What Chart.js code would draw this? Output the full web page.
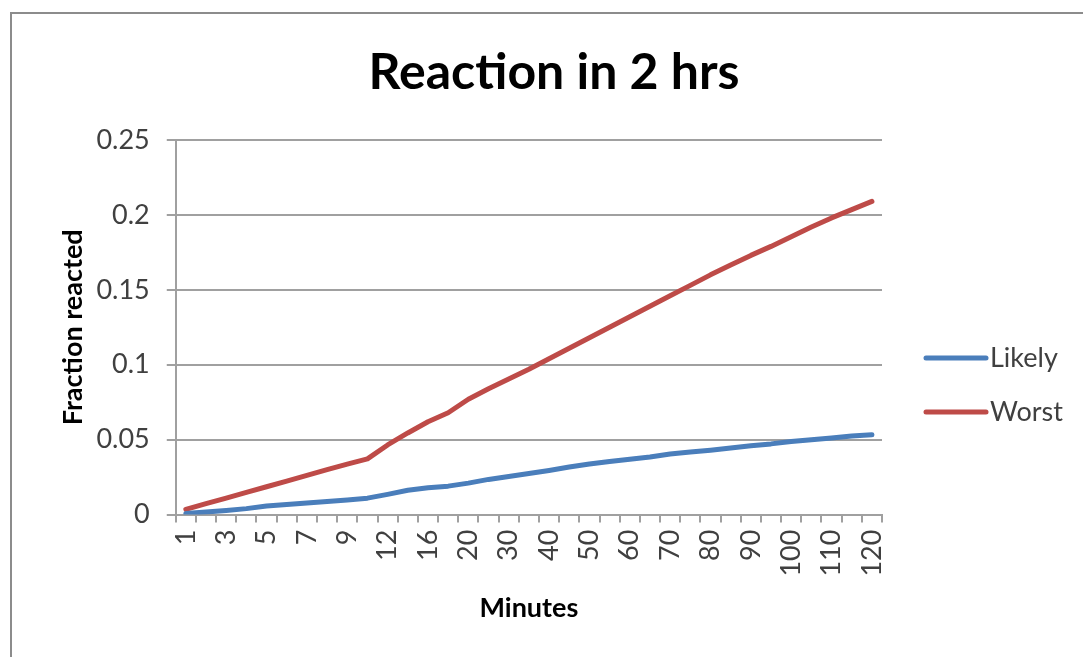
<!DOCTYPE html>
<html>
<head>
<meta charset="utf-8">
<title>Reaction in 2 hrs</title>
<script src="https://cdn.jsdelivr.net/npm/chart.js"></script>
<style>
  html, body { margin: 0; padding: 0; background: #fff; }
  #wrap { width: 1083px; height: 657px; }
</style>
</head>
<body>
<div id="wrap"><canvas id="chart" width="1083" height="657"></canvas></div>
<script>
// minutes on the category axis
const minutes = ['1', '2', '3', '4', '5', '6', '7', '8', '9', '10',
  '12', '14', '16', '18', '20', '25', '30', '35', '40', '45', '50', '55',
  '60', '65', '70', '75', '80', '85', '90', '95', '100', '105', '110', '115', '120'];

// fraction reacted
const likely = [0.0008, 0.0018, 0.0028, 0.0040, 0.0058, 0.0068, 0.0078, 0.0088, 0.0098, 0.0110,
  0.0135, 0.0163, 0.0180, 0.0190, 0.0210, 0.0235, 0.0255, 0.0275, 0.0295, 0.0318, 0.0338, 0.0355,
  0.0370, 0.0385, 0.0405, 0.0418, 0.0430, 0.0445, 0.0460, 0.0472, 0.0488, 0.0500, 0.0512, 0.0525, 0.0533];

const worst = [0.0035, 0.0073, 0.0110, 0.0148, 0.0186, 0.0224, 0.0262, 0.0300, 0.0337, 0.0372,
  0.0465, 0.0545, 0.0620, 0.0680, 0.0770, 0.0840, 0.0905, 0.0970, 0.1040, 0.1110, 0.1180, 0.1250,
  0.1320, 0.1390, 0.1460, 0.1530, 0.1600, 0.1665, 0.1730, 0.1790, 0.1855, 0.1920, 0.1980, 0.2035, 0.2090];

const seriesNames = ['Likely', 'Worst'];
const seriesColors = ['#4A7EBB', '#BE4B48'];

const yTicks = [0, 0.05, 0.1, 0.15, 0.2, 0.25];

Chart.defaults.font.family = 'Lato, "Open Sans", sans-serif';

// frame, title and the legend on the right, drawn like the Excel original
const excelLook = {
  id: 'excelLook',
  beforeDraw(chart) {
    const { ctx } = chart;
    ctx.save();
    ctx.fillStyle = '#fff';
    ctx.fillRect(0, 0, chart.width, chart.height);
    ctx.strokeStyle = '#8c8c8c';
    ctx.lineWidth = 2;
    ctx.strokeRect(11, 13, chart.width + 20, chart.height + 20);
    ctx.restore();
  },
  afterDraw(chart) {
    const { ctx } = chart;
    ctx.save();
    ctx.fillStyle = '#000';
    ctx.font = 'bold 50px Lato, "Open Sans", sans-serif';
    ctx.textAlign = 'center';
    ctx.textBaseline = 'alphabetic';
    ctx.fillText('Reaction in 2 hrs', 554, 89);

    ctx.font = '27px Lato, "Open Sans", sans-serif';
    ctx.textAlign = 'left';
    ctx.textBaseline = 'middle';
    chart.data.datasets.forEach((ds, i) => {
      const y = 358 + i * 54;
      ctx.strokeStyle = ds.borderColor;
      ctx.lineWidth = 5;
      ctx.lineCap = 'round';
      ctx.beginPath();
      ctx.moveTo(926, y);
      ctx.lineTo(986, y);
      ctx.stroke();
      ctx.fillStyle = '#404040';
      ctx.fillText(ds.label, 990, y);
    });
    ctx.restore();
  }
};

new Chart(document.getElementById('chart'), {
  type: 'line',
  data: {
    labels: minutes,
    datasets: [
      { label: seriesNames[0], data: likely, borderColor: seriesColors[0] },
      { label: seriesNames[1], data: worst, borderColor: seriesColors[1] }
    ]
  },
  options: {
    responsive: false,
    animation: false,
    layout: { padding: { left: 39, right: 201, top: 140, bottom: 29 } },
    elements: {
      line: { borderWidth: 5, tension: 0, borderCapStyle: 'round', borderJoinStyle: 'round' },
      point: { radius: 0 }
    },
    plugins: {
      legend: { display: false },
      title: { display: false },
      tooltip: { enabled: false }
    },
    scales: {
      x: {
        offset: true,
        grid: { offset: true, drawOnChartArea: false, tickLength: 8, color: '#a0a0a0', lineWidth: 2 },
        border: { color: '#a0a0a0', width: 2 },
        ticks: {
          autoSkip: false,
          minRotation: 90,
          maxRotation: 90,
          padding: 7,
          color: '#404040',
          font: { size: 27 },
          callback: function (value, index) {
            return index % 2 === 0 ? this.getLabelForValue(value) : '';
          }
        },
        title: {
          display: true,
          text: 'Minutes',
          color: '#000',
          font: { size: 27, weight: 'bold' },
          padding: { top: 8, bottom: 4 }
        }
      },
      y: {
        min: yTicks[0],
        max: yTicks[yTicks.length - 1],
        afterBuildTicks: (scale) => { scale.ticks = yTicks.map(v => ({ value: v })); },
        grid: { color: '#a0a0a0', lineWidth: 2, tickLength: 9 },
        border: { color: '#a0a0a0', width: 2 },
        ticks: {
          padding: 17,
          color: '#404040',
          font: { size: 27 },
          callback: (v) => String(+v.toFixed(2))
        },
        title: {
          display: true,
          text: 'Fraction reacted',
          color: '#000',
          font: { size: 27, weight: 'bold' },
          padding: { top: 18, bottom: -10 }
        }
      }
    }
  },
  plugins: [excelLook]
});
</script>
</body>
</html>
